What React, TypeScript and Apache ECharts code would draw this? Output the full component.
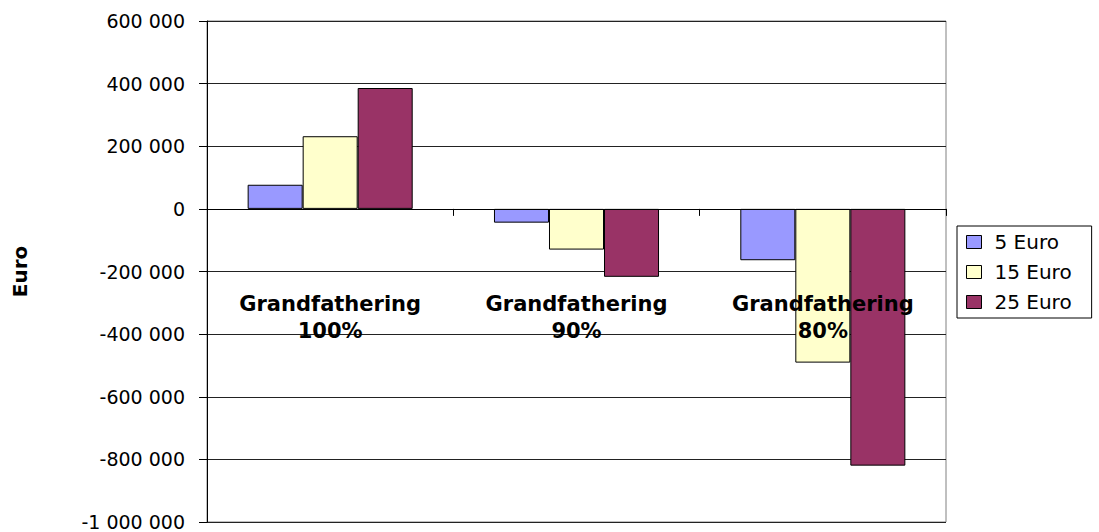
import React, { useEffect, useRef } from "react";
import * as echarts from "echarts";

const categories = ["Grandfathering\n100%", "Grandfathering\n90%", "Grandfathering\n80%"];
const seriesNames = ["5 Euro", "15 Euro", "25 Euro"];
const euro5 = [77000, -44000, -164000];
const euro15 = [232000, -130000, -491000];
const euro25 = [386000, -217000, -820000];
const seriesColors = ["#9999FF", "#FFFFCC", "#993366"];
const yMin = -1000000;
const yMax = 600000;
const yStep = 200000;

function fmt(v: number): string {
  const s = Math.abs(v).toString().replace(/\B(?=(\d{3})+(?!\d))/g, " ");
  return (v < 0 ? "-" : "") + s;
}

export default function App() {
  const ref = useRef<HTMLDivElement>(null);
  useEffect(() => {
    if (!ref.current) return;
    const chart = echarts.init(ref.current, null, { renderer: "svg" });
    const font = "DejaVu Sans";
    const values = [euro5, euro15, euro25];
    const gridTop = 21;
    const gridBottom = 10;
    const plotH = 532 - gridTop - gridBottom;
    const zeroFromBottom = ((0 - yMin) / (yMax - yMin)) * plotH;
    chart.setOption({
      animation: false,
      backgroundColor: "#fff",
      textStyle: { fontFamily: font, color: "#000" },
      grid: {
        left: 207,
        right: 153,
        top: gridTop,
        bottom: gridBottom,
        containLabel: false,
        outerBoundsMode: "none",
        show: true,
        borderColor: "#808080",
        borderWidth: 1,
        backgroundColor: "transparent",
      },
      legend: {
        orient: "vertical",
        left: 957,
        top: 226,
        padding: [6, 20, 6, 9],
        borderColor: "#000",
        borderWidth: 1,
        itemWidth: 15,
        itemHeight: 13,
        itemGap: 10,
        icon: "rect",
        itemStyle: { borderColor: "#000", borderWidth: 1 },
        textStyle: { fontFamily: font, fontSize: 20, lineHeight: 20, color: "#000", padding: [0, 0, 0, 8] },
        data: seriesNames,
      },
      xAxis: {
        type: "category",
        data: categories,
        position: "bottom",
        offset: -zeroFromBottom,
        z: 10,
        axisLine: { onZero: false, lineStyle: { color: "#000", width: 1 } },
        axisTick: { show: true, length: 7, lineStyle: { color: "#000" } },
        axisLabel: {
          margin: 82,
          fontFamily: font,
          fontSize: 21,
          fontWeight: "bold",
          lineHeight: 27,
          color: "#000",
          interval: 0,
        },
        splitLine: { show: false },
      },
      yAxis: {
        type: "value",
        min: yMin,
        max: yMax,
        interval: yStep,
        name: "Euro",
        nameLocation: "middle",
        nameRotate: 90,
        nameGap: 177,
        nameTextStyle: { fontFamily: font, fontSize: 20, fontWeight: "bold", color: "#000" },
        axisLine: { show: true, lineStyle: { color: "#000", width: 1 } },
        axisTick: { show: true, length: 8, lineStyle: { color: "#000" } },
        axisLabel: {
          margin: 22,
          fontFamily: font,
          fontSize: 19,
          lineHeight: 16,
          color: "#000",
          formatter: (v: number) => fmt(v),
        },
        splitLine: { show: true, lineStyle: { color: "#222", width: 1 } },
      },
      series: seriesNames.map((name, i) => ({
        name,
        type: "bar",
        data: values[i],
        barGap: "0%",
        barCategoryGap: "33%",
        itemStyle: { color: seriesColors[i], borderColor: "#000", borderWidth: 1 },
      })),
    });
    return () => chart.dispose();
  }, []);
  return (
    <div
      ref={ref}
      style={{ position: "fixed", left: 0, top: 0, width: 1099, height: 532, background: "#fff" }}
    />
  );
}
